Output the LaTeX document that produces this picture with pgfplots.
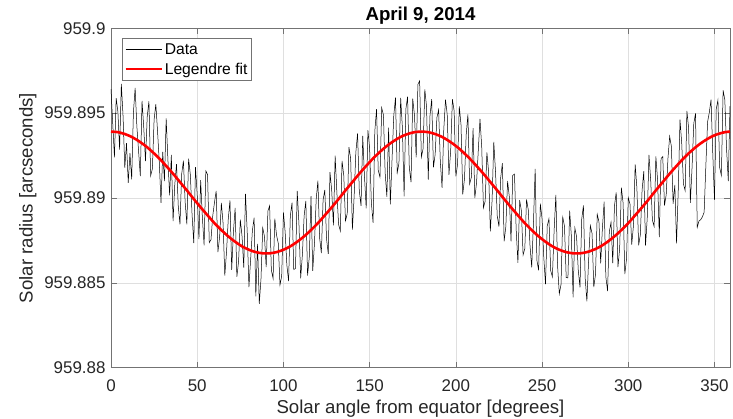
\documentclass[border=0pt]{standalone}
\usepackage{pgfplots}
\pgfplotsset{compat=1.18}
\usepackage{pgfplotstable}
\usepackage{fontspec}
\setmainfont{Liberation Sans}
\definecolor{axgray}{RGB}{38,38,38}
\definecolor{gridgray}{RGB}{223,223,223}

\pgfplotstableread{
x y
0 959.89641
1 959.89440
2 959.89240
3 959.89589
4 959.89508
5 959.89285
6 959.89673
7 959.89480
8 959.89177
9 959.89323
10 959.89089
11 959.89264
12 959.89110
13 959.89504
14 959.89649
15 959.89422
16 959.89276
17 959.89129
18 959.89572
19 959.89414
20 959.89217
21 959.89478
22 959.89570
23 959.89131
24 959.89172
25 959.89462
26 959.89553
27 959.89393
28 959.89213
29 959.88972
30 959.89272
31 959.89100
32 959.89469
33 959.89227
34 959.89016
35 959.89254
36 959.88863
37 959.89081
38 959.89199
39 959.88956
40 959.88844
41 959.89142
42 959.89220
43 959.88977
44 959.88845
45 959.89232
46 959.89139
47 959.88906
48 959.88734
49 959.89182
50 959.89020
51 959.88758
52 959.89105
53 959.88883
54 959.88721
55 959.89160
56 959.89138
57 959.88737
58 959.88755
59 959.88894
60 959.88972
61 959.89042
62 959.88681
63 959.88771
64 959.88971
65 959.88852
66 959.88542
67 959.88683
68 959.88874
69 959.88986
70 959.88577
71 959.88800
72 959.88942
73 959.88535
74 959.88628
75 959.88872
76 959.88775
77 959.88590
78 959.89024
79 959.88800
80 959.88475
81 959.88641
82 959.88807
83 959.88884
84 959.88421
85 959.88729
86 959.88376
87 959.88525
88 959.88824
89 959.88774
90 959.88593
91 959.88924
92 959.88954
93 959.88575
94 959.88526
95 959.88879
96 959.88781
97 959.88734
98 959.88487
99 959.88541
100 959.88915
101 959.88800
102 959.88604
103 959.88510
104 959.88895
105 959.88972
106 959.88578
107 959.88585
108 959.89042
109 959.88850
110 959.88527
111 959.88666
112 959.88894
113 959.88983
114 959.88542
115 959.88652
116 959.89011
117 959.88571
118 959.88731
119 959.88992
120 959.89102
121 959.88764
122 959.88675
123 959.88987
124 959.89048
125 959.88760
126 959.88671
127 959.89153
128 959.89045
129 959.88838
130 959.89250
131 959.89032
132 959.88844
133 959.88806
134 959.89219
135 959.89132
136 959.88865
137 959.88907
138 959.89300
139 959.89232
140 959.88814
141 959.89006
142 959.89269
143 959.89381
144 959.89043
145 959.88954
146 959.89366
147 959.89127
148 959.88939
149 959.89400
150 959.89292
151 959.88972
152 959.88853
153 959.89393
154 959.89523
155 959.89162
156 959.89122
157 959.89531
158 959.89490
159 959.89148
160 959.89007
161 959.89414
162 959.88962
163 959.89229
164 959.89486
165 959.89592
166 959.89149
167 959.89204
168 959.89590
169 959.89414
170 959.89009
171 959.89523
172 959.89597
173 959.89180
174 959.89093
175 959.89585
176 959.89488
177 959.89239
178 959.89670
179 959.89690
180 959.89241
181 959.89290
182 959.89640
183 959.89539
184 959.89108
185 959.89485
186 959.89583
187 959.89180
188 959.89257
189 959.89473
190 959.89519
191 959.89214
192 959.89060
193 959.89404
194 959.89579
195 959.89492
196 959.89136
197 959.89279
198 959.89582
199 959.89514
200 959.89127
201 959.89198
202 959.89540
203 959.89431
204 959.89022
205 959.89112
206 959.89373
207 959.89493
208 959.89083
209 959.89122
210 959.89412
211 959.89000
212 959.89089
213 959.89277
214 959.89466
215 959.89304
216 959.88943
217 959.88981
218 959.89269
219 959.89156
220 959.88804
221 959.88982
222 959.89330
223 959.89157
224 959.88895
225 959.88832
226 959.89119
227 959.89206
228 959.88744
229 959.88832
230 959.89100
231 959.89008
232 959.88745
233 959.89133
234 959.89141
235 959.88810
236 959.88618
237 959.88987
238 959.88925
239 959.88664
240 959.88702
241 959.88992
242 959.88931
243 959.88721
244 959.88591
245 959.88852
246 959.89172
247 959.88633
248 959.88574
249 959.88966
250 959.88877
251 959.88650
252 959.88492
253 959.88835
254 959.88878
255 959.88572
256 959.88535
257 959.88810
258 959.89019
259 959.88600
260 959.88435
261 959.88491
262 959.88887
263 959.88834
264 959.88531
265 959.88529
266 959.88926
267 959.88775
268 959.88414
269 959.88824
270 959.88773
271 959.88574
272 959.88474
273 959.88875
274 959.88956
275 959.88529
276 959.88391
277 959.88634
278 959.88837
279 959.88791
280 959.88475
281 959.88550
282 959.88904
283 959.88860
284 959.88615
285 959.88822
286 959.88978
287 959.88535
288 959.88452
289 959.88800
290 959.88857
291 959.88616
292 959.88954
293 959.89033
294 959.88592
295 959.88702
296 959.89061
297 959.88971
298 959.88551
299 959.88642
300 959.89002
301 959.88964
302 959.88725
303 959.88837
304 959.89198
305 959.89060
306 959.88721
307 959.88783
308 959.89045
309 959.89158
310 959.88720
311 959.88882
312 959.89254
313 959.89106
314 959.88869
315 959.88832
316 959.89245
317 959.89107
318 959.88770
319 959.89232
320 959.89244
321 959.88956
322 959.89019
323 959.89231
324 959.89363
325 959.89304
326 959.88966
327 959.89077
328 959.88733
329 959.89050
330 959.89462
331 959.89322
332 959.89083
333 959.89043
334 959.89513
335 959.89412
336 959.88972
337 959.89181
338 959.89440
339 959.89498
340 959.88827
341 959.88864
342 959.88872
343 959.88889
344 959.88916
345 959.89192
346 959.89449
347 959.89504
348 959.89580
349 959.89264
350 959.88989
351 959.89523
352 959.89577
353 959.89180
354 959.89133
355 959.89635
356 959.89578
357 959.89289
358 959.89100
359 959.89541
}\datatable

\pgfplotstableread{
x y
0 959.89391
4 959.89388
8 959.89377
12 959.89360
16 959.89336
20 959.89307
24 959.89272
28 959.89233
32 959.89189
36 959.89143
40 959.89094
44 959.89045
48 959.88994
52 959.88945
56 959.88898
60 959.88852
64 959.88811
68 959.88774
72 959.88742
76 959.88715
80 959.88695
84 959.88681
88 959.88674
92 959.88674
96 959.88681
100 959.88695
104 959.88715
108 959.88742
112 959.88774
116 959.88811
120 959.88852
124 959.88898
128 959.88945
132 959.88994
136 959.89045
140 959.89094
144 959.89143
148 959.89189
152 959.89233
156 959.89272
160 959.89307
164 959.89336
168 959.89360
172 959.89377
176 959.89388
180 959.89391
184 959.89388
188 959.89377
192 959.89360
196 959.89336
200 959.89307
204 959.89272
208 959.89233
212 959.89189
216 959.89143
220 959.89094
224 959.89045
228 959.88994
232 959.88945
236 959.88898
240 959.88852
244 959.88811
248 959.88774
252 959.88742
256 959.88715
260 959.88695
264 959.88681
268 959.88674
272 959.88674
276 959.88681
280 959.88695
284 959.88715
288 959.88742
292 959.88774
296 959.88811
300 959.88852
304 959.88898
308 959.88945
312 959.88994
316 959.89045
320 959.89094
324 959.89143
328 959.89189
332 959.89233
336 959.89272
340 959.89307
344 959.89336
348 959.89360
352 959.89377
356 959.89388
359 959.89391
}\fittable

\begin{document}
\begin{tikzpicture}
\begin{axis}[
  name=ax,
  scale only axis,
  width=619bp, height=339.4bp,
  xmin=0, xmax=359,
  ymin=959.88, ymax=959.9,
  xtick={0,50,...,350},
  ytick={959.88,959.885,959.89,959.895,959.9},
  yticklabels={959.88,959.885,959.89,959.895,959.9},
  /pgf/number format/assume math mode=true,
  tick align=inside,
  major tick length=6bp,
  axis line style={draw=black!55, line width=0.6bp},
  tick style={draw=black!55, line width=0.6bp},
  grid=major,
  grid style={draw=gridgray, line width=0.5bp},
  ticklabel style={font=\fontsize{17}{20}\selectfont, text=axgray},
  xticklabel style={yshift=-8bp},
  yticklabel style={xshift=-2bp},
  label style={font=\fontsize{18.7}{22}\selectfont, text=axgray},
  xlabel={Solar angle from equator [degrees]},
  ylabel={Solar radius [arcseconds]},
  xlabel style={yshift=-2bp},
  ylabel style={yshift=1bp},
  title={April 9, 2014},
  title style={font=\bfseries\fontsize{18.7}{22}\selectfont, text=black, yshift=-6bp},
  legend style={at={(0,1)}, anchor=north west, xshift=11bp, yshift=-10bp,
    draw=black!55, line width=0.5bp, fill=white,
    font=\fontsize{15.7}{18}\selectfont, text=black,
    inner xsep=2bp, inner ysep=3bp, row sep=3bp,
    cells={anchor=west}},
  legend image code/.code={\draw[#1] (0bp,0bp) -- (36bp,0bp);},
]
\addplot[black, line width=0.5bp] table[x=x, y=y] {\datatable};
\addlegendentry{Data}
\addplot[red, line width=2.6bp, smooth] table[x=x, y=y] {\fittable};
\addlegendentry{Legendre fit}
\end{axis}
\pgfresetboundingbox
\path[use as bounding box] ([shift={(-111bp,-51.3bp)}]ax.south west) rectangle ([shift={(3bp,28.3bp)}]ax.north east);
\end{tikzpicture}
\end{document}
